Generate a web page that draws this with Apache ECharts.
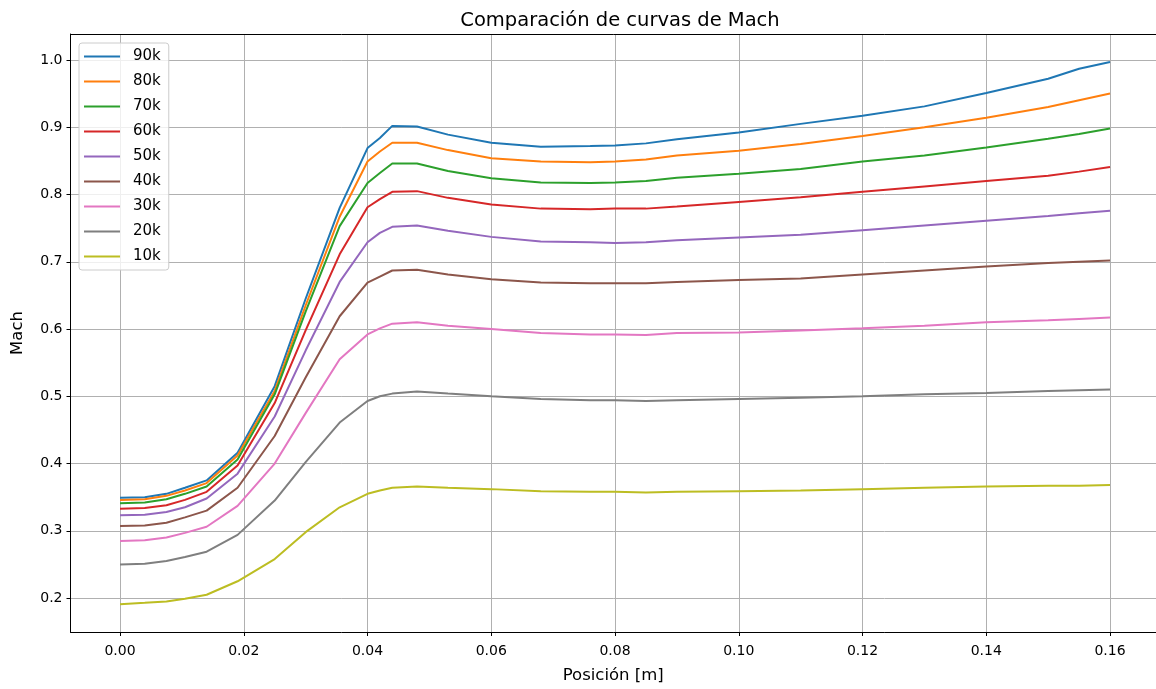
<!DOCTYPE html>
<html>
<head>
<meta charset="utf-8">
<script src="https://cdn.jsdelivr.net/npm/echarts@6/dist/echarts.min.js"></script>
<style>
    html, body { margin: 0; padding: 0; background: #fff; }
    .mach { width: 1156px; height: 689px; }
</style>
</head>
<body>
<div class="mach"></div>
<script>
// posiciones [m]
const posicion = [0, 0.004, 0.0075, 0.0105, 0.014, 0.019, 0.025, 0.030, 0.0355, 0.040, 0.042, 0.044, 0.048, 0.053,
    0.060, 0.068, 0.076, 0.080, 0.085, 0.090, 0.100, 0.110, 0.120, 0.130, 0.140, 0.150, 0.155, 0.160]

const nombres = ['90k', '80k', '70k', '60k', '50k', '40k', '30k', '20k', '10k']
const colores = ['#1f77b4', '#ff7f0e', '#2ca02c', '#d62728', '#9467bd', '#8c564b', '#e377c2', '#7f7f7f', '#bcbd22']

const mach90k = [0.349, 0.350, 0.355, 0.364, 0.375, 0.416, 0.515, 0.645, 0.780, 0.869, 0.884, 0.902, 0.901, 0.889,
    0.877, 0.871, 0.872, 0.873, 0.876, 0.882, 0.892, 0.905, 0.917, 0.931, 0.951, 0.972, 0.987, 0.997]
const mach80k = [0.346, 0.347, 0.352, 0.360, 0.371, 0.412, 0.508, 0.635, 0.767, 0.849, 0.864, 0.877, 0.877, 0.866,
    0.854, 0.849, 0.848, 0.849, 0.852, 0.858, 0.865, 0.875, 0.887, 0.900, 0.914, 0.930, 0.940, 0.950]
const mach70k = [0.341, 0.342, 0.347, 0.355, 0.366, 0.406, 0.503, 0.626, 0.753, 0.817, 0.832, 0.846, 0.846, 0.835,
    0.824, 0.818, 0.817, 0.818, 0.820, 0.825, 0.831, 0.838, 0.849, 0.858, 0.870, 0.883, 0.890, 0.898]
const mach60k = [0.333, 0.334, 0.338, 0.346, 0.358, 0.397, 0.490, 0.598, 0.711, 0.781, 0.793, 0.804, 0.805, 0.795,
    0.785, 0.779, 0.778, 0.779, 0.779, 0.782, 0.789, 0.796, 0.804, 0.812, 0.820, 0.828, 0.834, 0.841]
const mach50k = [0.323, 0.324, 0.328, 0.335, 0.348, 0.385, 0.470, 0.568, 0.670, 0.729, 0.743, 0.752, 0.754, 0.746,
    0.737, 0.730, 0.729, 0.728, 0.729, 0.732, 0.736, 0.740, 0.747, 0.754, 0.761, 0.768, 0.772, 0.776]
const mach40k = [0.307, 0.308, 0.312, 0.320, 0.330, 0.364, 0.441, 0.528, 0.619, 0.669, 0.678, 0.687, 0.688, 0.681,
    0.674, 0.669, 0.668, 0.668, 0.668, 0.670, 0.673, 0.675, 0.681, 0.687, 0.693, 0.698, 0.700, 0.702]
const mach30k = [0.285, 0.286, 0.290, 0.297, 0.306, 0.337, 0.400, 0.475, 0.555, 0.592, 0.601, 0.608, 0.610, 0.605,
    0.600, 0.594, 0.592, 0.592, 0.591, 0.594, 0.595, 0.598, 0.601, 0.605, 0.610, 0.613, 0.615, 0.617]
const mach20k = [0.250, 0.251, 0.255, 0.261, 0.269, 0.294, 0.345, 0.402, 0.461, 0.493, 0.500, 0.504, 0.507, 0.504,
    0.500, 0.496, 0.494, 0.494, 0.493, 0.494, 0.496, 0.498, 0.500, 0.503, 0.505, 0.508, 0.509, 0.510]
const mach10k = [0.191, 0.193, 0.195, 0.199, 0.205, 0.225, 0.258, 0.298, 0.335, 0.355, 0.360, 0.364, 0.366, 0.364,
    0.362, 0.359, 0.358, 0.358, 0.357, 0.358, 0.359, 0.360, 0.362, 0.364, 0.366, 0.367, 0.367, 0.368]

const xTicks = [0, 0.02, 0.04, 0.06, 0.08, 0.10, 0.12, 0.14, 0.16]
const yTicks = [0.2, 0.3, 0.4, 0.5, 0.6, 0.7, 0.8, 0.9, 1.0]

;(function () {
    const myChart = echarts.init(document.querySelector('.mach'))
    const curvas = [mach90k, mach80k, mach70k, mach60k, mach50k, mach40k, mach30k, mach20k, mach10k]
    const fuente = 'DejaVu Sans'
    const xMin = -0.008
    const xMax = 0.16743 // el borde derecho cae justo fuera de la imagen

    const series = curvas.map(function (valores, i) {
        return {
            name: nombres[i],
            type: 'line',
            symbol: 'none',
            smooth: false,
            lineStyle: { color: colores[i], width: 2 },
            itemStyle: { color: colores[i] },
            data: posicion.map(function (x, j) { return [x, valores[j]] })
        }
    })

    const option = {
        animation: false,
        textStyle: { fontFamily: fuente },
        title: {
            text: 'Comparación de curvas de Mach',
            left: 615,
            textAlign: 'center',
            top: 6,
            textStyle: { fontFamily: fuente, fontSize: 19.5, fontWeight: 'normal', color: '#000' }
        },
        legend: {
            orient: 'vertical',
            left: 79,
            top: 43,
            padding: [6, 8, 6, 5],
            itemWidth: 36,
            itemHeight: 2,
            itemGap: 10,
            icon: 'rect',
            backgroundColor: 'rgba(255,255,255,0.8)',
            borderColor: '#cccccc',
            borderWidth: 1,
            borderRadius: 3,
            textStyle: { fontFamily: fuente, fontSize: 15, color: '#000', padding: [0, 0, 0, 8], lineHeight: 14 },
            data: nombres
        },
        grid: {
            left: 70.5,
            top: 34,
            width: 1085.5,
            height: 599,
            show: false,
            containLabel: false
        },
        xAxis: [
            {
                type: 'value',
                min: xMin,
                max: xMax,
                name: 'Posición [m]',
                nameLocation: 'middle',
                nameGap: 35,
                nameTextStyle: { fontFamily: fuente, fontSize: 16.5, color: '#000' },
                axisLine: { show: true, onZero: false, lineStyle: { color: '#000', width: 1 } },
                axisTick: { show: true, inside: false, length: 4, lineStyle: { color: '#000' }, customValues: xTicks },
                axisLabel: {
                    fontFamily: fuente, fontSize: 14, color: '#000', margin: 12,
                    customValues: xTicks,
                    formatter: function (v) { return v.toFixed(2) }
                },
                splitLine: { show: true, lineStyle: { color: '#b0b0b0', width: 1 } }
            },
            {
                // borde superior del marco
                type: 'value',
                position: 'top',
                min: xMin,
                max: xMax,
                axisLine: { show: true, onZero: false, lineStyle: { color: '#000', width: 1 } },
                axisTick: { show: false },
                axisLabel: { show: false },
                splitLine: { show: false }
            }
        ],
        yAxis: {
            type: 'value',
            min: 0.1496,
            max: 1.0386,
            name: 'Mach',
            nameLocation: 'middle',
            nameGap: 44,
            nameRotate: 90,
            nameTextStyle: { fontFamily: fuente, fontSize: 16.5, color: '#000' },
            axisLine: { show: true, onZero: false, lineStyle: { color: '#000', width: 1 } },
            axisTick: { show: true, inside: false, length: 4, lineStyle: { color: '#000' }, customValues: yTicks },
            axisLabel: {
                fontFamily: fuente, fontSize: 14, color: '#000', margin: 8,
                customValues: yTicks,
                formatter: function (v) { return v.toFixed(1) }
            },
            splitLine: { show: true, lineStyle: { color: '#b0b0b0', width: 1 } }
        },
        series: series
    }
    myChart.setOption(option)
})()
</script>
</body>
</html>
